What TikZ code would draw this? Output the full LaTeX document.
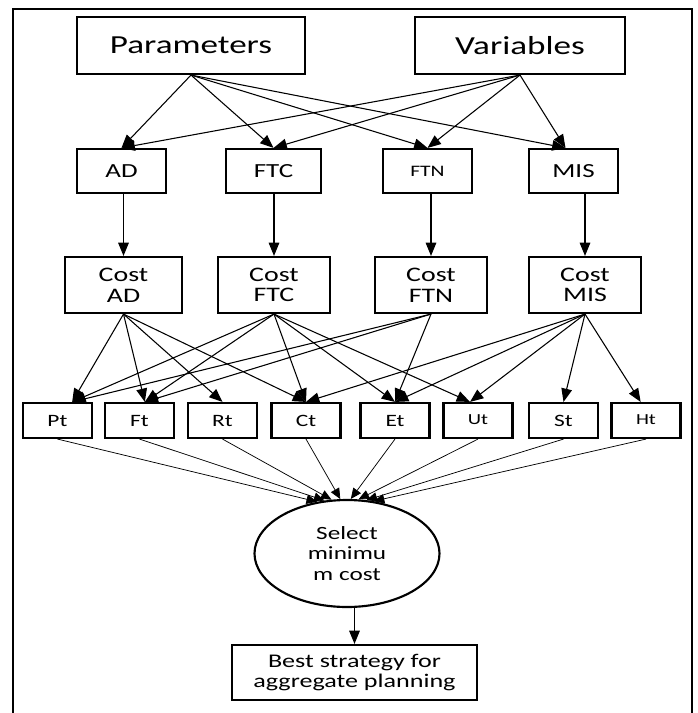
\documentclass[tikz,border=0pt]{standalone}
\usepackage{fontspec}
\setmainfont[FakeStretch=1.35]{Carlito}
\usepackage{tikz}
\usetikzlibrary{arrows.meta,shapes.geometric}
\tikzset{>={Triangle[length=10pt,width=8pt]}}

\begin{document}
\begin{tikzpicture}[x=0.75pt,y=-0.75pt,
                    mybox/.style={draw, line width=1.6pt, inner sep=0pt, align=center},
                    bigbox/.style={mybox, minimum height=42.75pt, font=\fontsize{19.5}{22}\selectfont},
                    midbox/.style={mybox, minimum width=66.75pt, minimum height=33pt, font=\fontsize{15}{17}\selectfont},
                    costbox/.style={mybox, minimum width=84pt, minimum height=42pt, font=\fontsize{15.5}{15.5}\selectfont},
                    smallbox/.style={mybox, minimum width=51.75pt, minimum height=26.25pt, font=\fontsize{13}{15}\selectfont},
                    mylink/.style={line width=0.8pt, ->},
                    thinlink/.style={line width=0.55pt, -{Triangle[length=8pt,width=7pt]}},
                    frame/.style={line width=0.8pt},
                   ]

\useasboundingbox (0,0) rectangle (697,713);
\draw[frame] (13,713) -- (13,9) -- (692,9) -- (692,713);

% inputs
\node[bigbox, minimum width=171pt] (par) at (191,45.5) {Parameters};
\node[bigbox, minimum width=157.5pt] (var) at (520,45.5) {Variables};

% strategies
\node[midbox] (ad) at (121.5,171) {AD};
\node[midbox, minimum width=71.25pt] (ftc) at (273.5,171) {FTC};
\node[midbox, font=\fontsize{12}{14}\selectfont] (ftn) at (427.5,171) {FTN};
\node[midbox] (mis) at (573.5,171) {MIS};

\node[costbox, minimum width=87.75pt] (cad) at (123.5,285) {Cost\\AD};
\node[costbox] (cftc) at (274,285) {Cost\\FTC};
\node[costbox] (cftn) at (431,285) {Cost\\FTN};
\node[costbox] (cmis) at (585,285) {Cost\\MIS};

% cost items
\node[smallbox] (pt) at (57.5,420.5) {Pt};
\node[smallbox] (ft) at (139.5,420.5) {Ft};
\node[smallbox] (rt) at (222.5,420.5) {Rt};
\node[smallbox] (ct) at (306,420.5) {Ct};
\node[smallbox] (et) at (395,420.5) {Et};
\node[smallbox, font=\fontsize{11.5}{13}\selectfont] (ut) at (478,420.5) {\raisebox{2pt}{Ut}};
\node[smallbox] (st) at (563.5,420.5) {St};
\node[smallbox, font=\fontsize{11.5}{13}\selectfont] (ht) at (646,420.5) {\raisebox{2pt}{Ht}};

\node[draw, ellipse, line width=1.6pt, minimum width=138.75pt, minimum height=80.25pt, inner sep=0pt,
      align=center, font=\fontsize{14}{15.5}\selectfont] (sel) at (347,553.5) {Select\\minimu\\m cost};
\node[mybox, minimum width=183.75pt, minimum height=41.25pt, font=\fontsize{14.5}{15}\selectfont]
      (best) at (354.5,672.5) {Best strategy for\\aggregate planning};

\coordinate (mis-in) at ([xshift=-6pt]mis.north);
\coordinate (pt-in) at ([xshift=11pt]pt.north);
\coordinate (ft-in) at ([xshift=4pt]ft.north);
\coordinate (ut-in) at ([xshift=-6pt]ut.north);
\coordinate (ht-in) at ([xshift=-4pt]ht.north);

\foreach \t in {ad.north,ftc.north,ftn.north,mis-in} {
  \draw[mylink] (par.south) -- (\t);
  \draw[mylink] (var.south) -- (\t);
}

\draw[mylink] (cad.north |- ad.south) -- (cad.north);
\draw[mylink] (cftc.north |- ftc.south) -- (cftc.north);
\draw[mylink] (cftn.north |- ftn.south) -- (cftn.north);
\draw[mylink] (cmis.north |- mis.south) -- (cmis.north);

\foreach \t in {pt-in,ft-in,rt.north,ct.north} \draw[mylink] (cad.south) -- (\t);
\foreach \t in {pt-in,ft-in,ct.north,et.north,ut-in} \draw[mylink] (cftc.south) -- (\t);
\foreach \t in {pt-in,ft-in,et.north} \draw[mylink] (cftn.south) -- (\t);
\foreach \t in {ct.north,et.north,ut-in,st.north,ht-in} \draw[mylink] (cmis.south) -- (\t);

\foreach \s/\a in {pt/120,ft/113,rt/106,ct/97,et/86,ut/78,st/70,ht/63}
  \draw[thinlink] (\s.south) -- (sel.\a);

\draw[mylink] (sel.south -| best.north) -- (best.north);

\end{tikzpicture}
\end{document}
